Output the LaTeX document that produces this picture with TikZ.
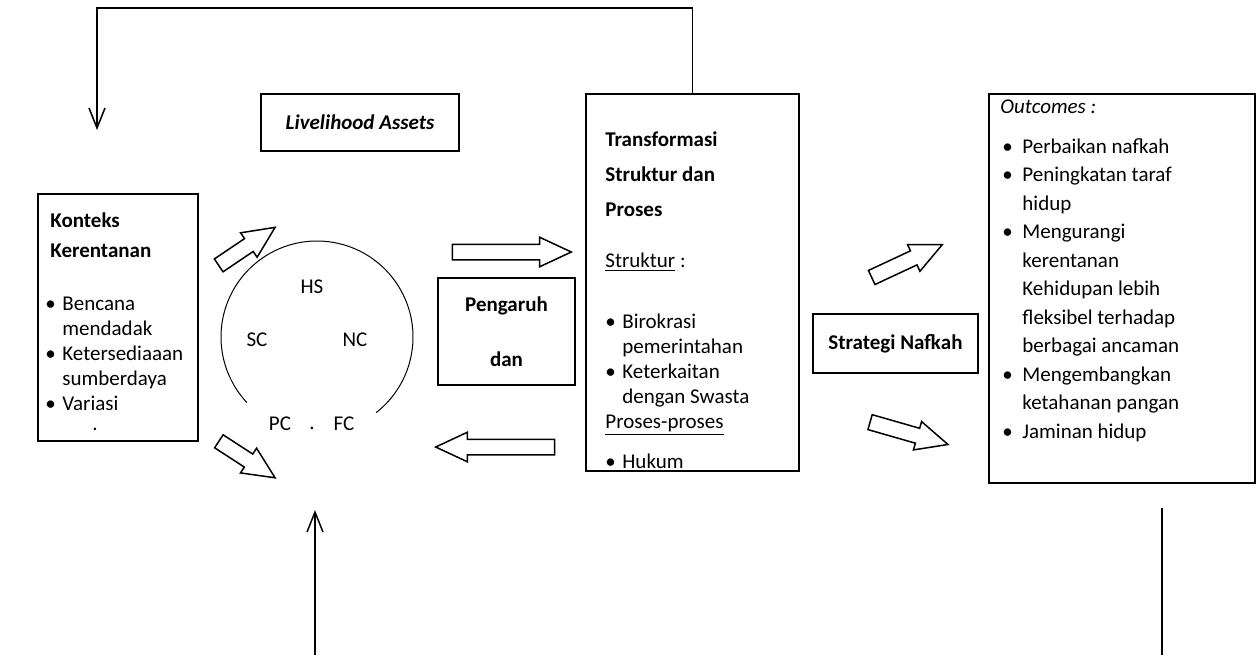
\documentclass[tikz,border=0pt]{standalone}
\usepackage{fontspec}
\setmainfont{Carlito}
\usetikzlibrary{arrows.meta,shapes.arrows}

\newcommand{\bul}[1][8.5pt]{\makebox[#1][l]{•}}
\newcommand{\cont}[1][8.5pt]{\hspace*{#1}}

\begin{document}
\begin{tikzpicture}[x=0.5pt, y=-0.5pt,
        box/.style={rectangle, draw, line width=1pt, anchor=north west, inner sep=0pt},
        txt/.style={anchor=north west, inner sep=0pt, align=left, font=\fontsize{10.5}{#1}\selectfont},
        txt/.default=12.5,
        bold/.style={font=\fontsize{10.5}{#1}\selectfont\bfseries},
        bold/.default=12.5,
        lbl/.style={inner sep=0pt, font=\fontsize{10.5}{12.5}\selectfont},
        hollow/.style={single arrow, draw, line width=0.75pt, inner sep=3.5pt,
            single arrow head extend=3.5pt, single arrow tip angle=50, minimum height=#1},
        feedback/.style={line width=0.75pt, -{Straight Barb[length=10pt,width=8pt]}}
    ]

        \useasboundingbox (0,0) rectangle (1256,655);

        % boxes
        \node[box, minimum width=80pt, minimum height=123.5pt] (konteks) at (37,193) {};
        \node[box, minimum width=99pt, minimum height=28.5pt, font=\fontsize{10.5}{12.5}\selectfont\bfseries\itshape] (assets) at (260,93) {Livelihood Assets};
        \node[box, minimum width=106.5pt, minimum height=188.5pt] (transform) at (585,93) {};
        \node[box, minimum width=68.5pt, minimum height=53.5pt, align=center, bold=27.5] (pengaruh) at (437,277) {Pengaruh\\dan};
        \node[box, minimum width=82.5pt, minimum height=29.5pt, bold] (strategi) at (812,313) {Strategi Nafkah};
        \node[box, minimum width=133pt, minimum height=194.5pt] (outcomes) at (988,93) {};

        % konteks kerentanan
        \node[txt, bold=15] (konteksT) at (50,206) {\strut Konteks\\Kerentanan};
        \node[txt] (konteksL) at (45,292.5) {\strut\bul Bencana\\\cont mendadak\\\bul Ketersediaaan\\\cont sumberdaya\\\bul Variasi};
        \node[lbl, anchor=base] (konteksD) at (95,430) {.};

        % assets circle
        \coordinate (ctr) at (317,337);
        \draw[line width=0.5pt] ([shift={(52:96)}]ctr) arc[start angle=52, end angle=-223, radius=96];
        \node[lbl] (hs) at (312,287) {HS};
        \node[lbl] (sc) at (257,340) {SC};
        \node[lbl] (nc) at (355,340) {NC};
        \node[lbl] (pc) at (280,424) {PC};
        \node[lbl, anchor=base] (dot) at (312,429) {.};
        \node[lbl] (fc) at (344,424) {FC};

        % transformasi struktur dan proses
        \node[txt, bold=17.5] (transformT) at (605,121.5) {\strut Transformasi\\Struktur dan\\Proses};
        \node[txt, anchor=base west] (strukturL) at (605,267) {\underline{Struktur} :};
        \node[txt] (transformL) at (605,310.5) {\strut\bul Birokrasi\\\cont pemerintahan\\\bul Keterkaitan\\\cont dengan Swasta\\\underline{Proses-proses}};
        \node[txt, anchor=base west] (hukum) at (605,468) {\bul Hukum};

        % outcomes
        \node[txt, anchor=base west, font=\fontsize{10.5}{12.5}\selectfont\itshape] (outcomesT) at (1000,113) {Outcomes :};
        \node[txt=14.25] (outcomesL) at (1002,133) {\strut\bul[10pt]Perbaikan nafkah\\\bul[10pt]Peningkatan taraf\\\cont[10pt]hidup\\\bul[10pt]Mengurangi\\\cont[10pt]kerentanan\\\cont[10pt]Kehidupan lebih\\\cont[10pt]fleksibel terhadap\\\cont[10pt]berbagai ancaman\\\bul[10pt]Mengembangkan\\\cont[10pt]ketahanan pangan\\\bul[10pt]Jaminan hidup};

        % hollow arrows
        \node[hollow=34pt, rotate=34] (ctxup) at (240,251) {};
        \node[hollow=33.5pt, rotate=-33] (ctxdown) at (240,455) {};
        \node[hollow=59.5pt] (toTransform) at (503.5,252) {};
        \node[hollow=59.5pt, rotate=180] (fromTransform) at (503.5,447) {};
        \node[hollow=39pt, rotate=25] (stratUp) at (899.5,264.5) {};
        \node[hollow=40.5pt, rotate=-16] (stratDown) at (901,431) {};

        % feedback lines
        \coordinate (ctxin) at (97,130);
        \coordinate (assetsin) at (315,510);
        \coordinate (bottomL) at (315,655);
        \coordinate (outtop) at (1162,508);
        \coordinate (bottomR) at (1162,655);
        \draw[feedback] (transform.north) -- ++(0,-85) -| (ctxin);
        \draw[feedback] (bottomL) -- (assetsin);
        \draw[line width=0.75pt] (outtop) -- (bottomR);

    \end{tikzpicture}
\end{document}
